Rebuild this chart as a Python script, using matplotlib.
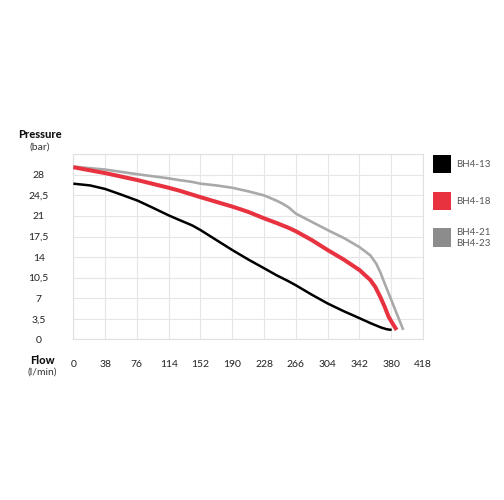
import matplotlib
matplotlib.use("Agg")
import matplotlib.pyplot as plt
from matplotlib.patches import Rectangle

plt.rcParams['font.family'] = ['Lato', 'DejaVu Sans']

# Flow (l/min) and pressure (bar) for each pump curve
flow_bh4_13 = [0, 20, 38, 56, 77, 95, 114, 127, 142, 152, 171, 190, 209, 228, 243, 257, 266,
               285, 304, 323, 342, 356, 368, 375, 380.5]
pres_bh4_13 = [26.5, 26.2, 25.6, 24.7, 23.6, 22.4, 21.1, 20.3, 19.4, 18.6, 16.9, 15.2, 13.6,
               12.1, 10.9, 9.9, 9.2, 7.6, 6.1, 4.8, 3.6, 2.7, 2.0, 1.7, 1.6]

flow_bh4_18 = [0, 38, 77, 114, 127, 152, 171, 190, 209, 228, 243, 257, 266, 285, 304, 323,
               342, 355, 361, 367, 372, 377, 382, 386.5]
pres_bh4_18 = [29.3, 28.3, 27.1, 25.8, 25.3, 24.2, 23.4, 22.6, 21.7, 20.6, 19.8, 19.0, 18.4,
               16.9, 15.2, 13.6, 11.8, 10.1, 8.9, 7.2, 5.6, 3.8, 2.6, 1.6]

flow_bh4_21 = [0, 38, 77, 114, 127, 142, 152, 171, 190, 209, 228, 243, 250, 257, 266, 285,
               304, 324, 342, 355, 362, 367, 370.5, 377, 384, 394.4]
pres_bh4_21 = [29.4, 28.9, 28.1, 27.4, 27.1, 26.8, 26.5, 26.2, 25.8, 25.2, 24.5, 23.6, 23.1,
               22.5, 21.4, 20.0, 18.6, 17.2, 15.7, 14.3, 12.9, 11.4, 10.1, 7.8, 5.3, 1.6]

x_ticks = [0, 38, 76, 114, 152, 190, 228, 266, 304, 342, 380, 418]
y_ticks = [0, 3.5, 7, 10.5, 14, 17.5, 21, 24.5, 28]
y_tick_labels = ['0', '3,5', '7', '10,5', '14', '17,5', '21', '24,5', '28']

series_names = ['BH4-13', 'BH4-18', 'BH4-21\nBH4-23']
line_colors = ['#000000', '#e8323f', '#a9a9a9']
swatch_colors = ['#000000', '#e8323f', '#8c8c8c']

fig = plt.figure(figsize=(5.04, 5.0), dpi=100)
ax = fig.add_axes([0.1455, 0.3214, 0.6938, 0.37])

ax.plot(flow_bh4_21, pres_bh4_21, color=line_colors[2], lw=1.9,
        solid_capstyle='butt', solid_joinstyle='round', zorder=3)
ax.plot(flow_bh4_18, pres_bh4_18, color=line_colors[1], lw=2.9,
        solid_capstyle='butt', solid_joinstyle='round', zorder=4)
ax.plot(flow_bh4_13, pres_bh4_13, color=line_colors[0], lw=1.8,
        solid_capstyle='butt', solid_joinstyle='round', zorder=5)

ax.set_xlim(0, 418)
ax.set_ylim(0, 31.5)
ax.set_xticks(x_ticks)
ax.set_yticks(y_ticks + [31.5])
ax.set_yticklabels(y_tick_labels + [''])
ax.grid(True, color='#e6e6e6', lw=0.8)
ax.set_axisbelow(True)
for s in ax.spines.values():
    s.set_color('#e0e0e0')
    s.set_linewidth(0.8)
ax.tick_params(length=0, labelsize=7.5, colors='#222222')
ax.tick_params(axis='y', pad=25)
ax.tick_params(axis='x', pad=15)
for lbl in ax.get_yticklabels():
    lbl.set_ha('center')

# axis titles
fig.text(40 / 504, 1 - 135 / 500, 'Pressure', ha='center', va='center',
         fontsize=8, fontweight='black', color='#111111')
fig.text(40 / 504, 1 - 147 / 500, '(bar)', ha='center', va='center',
         fontsize=7.5, color='#333333')
fig.text(42 / 504, 1 - 360 / 500, 'Flow', ha='center', va='center',
         fontsize=8, fontweight='black', color='#111111')
fig.text(42 / 504, 1 - 372 / 500, '(l/min)', ha='center', va='center',
         fontsize=7.5, color='#333333')

# legend swatches
legend_tops = [155, 191.7, 228.3]
for name, color, top in zip(series_names, swatch_colors, legend_tops):
    fig.patches.append(Rectangle((432.7 / 504, 1 - (top + 18.3) / 500), 18.3 / 504, 18.3 / 500,
                                 transform=fig.transFigure, facecolor=color, edgecolor='none'))
    fig.text(456 / 504, 1 - (top + 9.5) / 500, name, ha='left', va='center',
             fontsize=7, color='#555555', linespacing=1.3)

fig.savefig('out.png', dpi=100, facecolor='white')
